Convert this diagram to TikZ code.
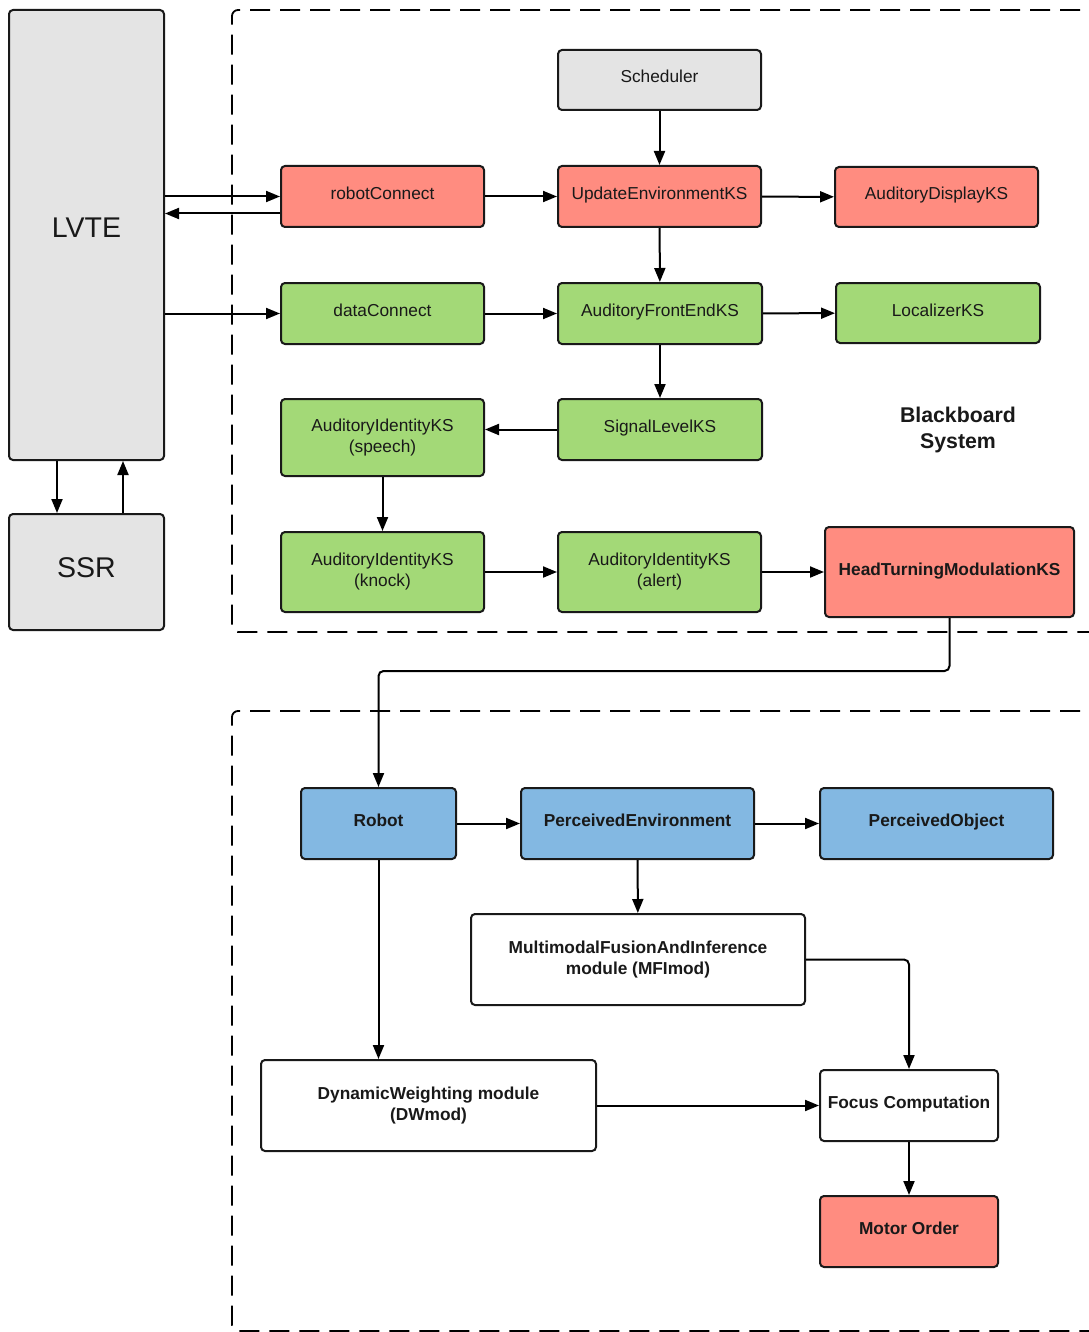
\documentclass[tikz,border=0pt]{standalone}
\usepackage{fontspec}
\setmainfont{Liberation Sans}
\usetikzlibrary{arrows.meta}
\definecolor{boxgray}{RGB}{228,228,228}
\definecolor{boxred}{RGB}{255,140,128}
\definecolor{boxgreen}{RGB}{163,217,119}
\definecolor{boxblue}{RGB}{131,184,226}
\tikzset{
  box/.style={draw=black!90, line width=2pt, rounded corners=4pt, inner sep=0pt,
    align=center, text=black!90, font=\fontsize{17.3}{21}\selectfont},
  oneline/.style={text height=13pt, text depth=7pt},
  boldbox/.style={box, font=\fontsize{17.3}{21}\selectfont\bfseries},
  bigbox/.style={box, font=\fontsize{28.5}{32}\selectfont, text height=21pt},
  flow/.style={line width=2pt, draw=black, -{Triangle[length=14pt,width=11pt]}},
  region/.style={line width=1.8pt, dash pattern=on 20pt off 10pt, rounded corners=6pt},
}
\begin{document}
\begin{tikzpicture}[x=1pt,y=-1pt]
\useasboundingbox[fill=white] (0,0) rectangle (1088,1332);

% dashed regions (open towards the right edge)
\draw[region] (1110,10) -- (232,10) -- (232,632) -- (1110,632);
\draw[region] (1110,711) -- (232,711) -- (232,1331) -- (1110,1331);

% external components
\node[bigbox, text depth=16pt, fill=boxgray, minimum width=155pt, minimum height=450pt] (lvte) at (86.5,235) {LVTE};
\node[bigbox, text depth=11pt, fill=boxgray, minimum width=155pt, minimum height=116pt] (ssr) at (86.5,572) {SSR};

% blackboard system
\node[box, oneline, fill=boxgray, minimum width=203pt, minimum height=60pt] (sched) at (659.5,80) {Scheduler};
\node[box, oneline, fill=boxred, minimum width=203pt, minimum height=61pt] (rc) at (382.5,196.5) {robotConnect};
\node[box, oneline, fill=boxred, minimum width=203pt, minimum height=61pt] (uenv) at (659.5,196.5) {UpdateEnvironmentKS};
\node[box, oneline, fill=boxred, minimum width=203pt, minimum height=60pt] (adisp) at (936.5,197) {AuditoryDisplayKS};
\node[box, oneline, fill=boxgreen, minimum width=203pt, minimum height=61pt] (dc) at (382.5,313.5) {dataConnect};
\node[box, oneline, fill=boxgreen, minimum width=204pt, minimum height=61pt] (afe) at (660,313.5) {AuditoryFrontEndKS};
\node[box, oneline, fill=boxgreen, minimum width=204pt, minimum height=60pt] (loc) at (938,313) {LocalizerKS};
\node[box, oneline, fill=boxgreen, minimum width=204pt, minimum height=61pt] (sig) at (660,429.5) {SignalLevelKS};
\node[box, fill=boxgreen, minimum width=203pt, minimum height=77pt] (speech) at (382.5,437.5) {AuditoryIdentityKS\\(speech)};
\node[box, fill=boxgreen, minimum width=203pt, minimum height=80pt] (knock) at (382.5,572) {AuditoryIdentityKS\\(knock)};
\node[box, fill=boxgreen, minimum width=203pt, minimum height=80pt] (alert) at (659.5,572) {AuditoryIdentityKS\\(alert)};
\node[boldbox, oneline, fill=boxred, minimum width=249pt, minimum height=90pt] (htm) at (949.5,572) {HeadTurningModulationKS};
\node[align=center, font=\fontsize{21.3}{26}\selectfont\bfseries, text=black!90] (bbs) at (958,430) {Blackboard\\System};

% head turning modulation part
\node[boldbox, oneline, fill=boxblue, minimum width=155pt, minimum height=71pt] (robot) at (378.5,823.5) {Robot};
\node[boldbox, oneline, fill=boxblue, minimum width=233pt, minimum height=71pt] (penv) at (637.5,823.5) {PerceivedEnvironment};
\node[boldbox, oneline, fill=boxblue, minimum width=233pt, minimum height=71pt] (pobj) at (936.5,823.5) {PerceivedObject};
\node[boldbox, fill=white, minimum width=334pt, minimum height=91pt] (mfi) at (638,959.5) {MultimodalFusionAndInference\\module (MFImod)};
\node[boldbox, fill=white, minimum width=335pt, minimum height=91pt] (dw) at (428.5,1105.5) {DynamicWeighting module\\(DWmod)};
\node[boldbox, oneline, fill=white, minimum width=178pt, minimum height=71pt] (focus) at (909,1105.5) {Focus Computation};
\node[boldbox, oneline, fill=boxred, minimum width=178pt, minimum height=71pt] (motor) at (909,1231.5) {Motor Order};

\coordinate (turn) at (949.5,671);

% connectors
\draw[flow] (lvte.east |- rc.west) -- (rc.west);
\draw[flow] (rc.west) ++(0,17) coordinate (rcB) -- (rcB -| lvte.east);
\draw[flow] (lvte.east |- dc.west) -- (dc.west);
\draw[flow] (lvte.south) ++(-29.5,0) coordinate (lvteD) -- (lvteD |- ssr.north);
\draw[flow] (ssr.north) ++(36.5,0) coordinate (ssrU) -- (ssrU |- lvte.south);

\draw[flow] (sched) -- (uenv);
\draw[flow] (rc) -- (uenv);
\draw[flow] (uenv) -- (adisp);
\draw[flow] (uenv) -- (afe);
\draw[flow] (dc) -- (afe);
\draw[flow] (afe) -- (loc);
\draw[flow] (afe) -- (sig);
\draw[flow] (sig.west) -- (sig.west -| speech.east);
\draw[flow] (speech) -- (knock);
\draw[flow] (knock) -- (alert);
\draw[flow] (alert) -- (htm);
\draw[flow, rounded corners=5pt] (htm.south) -- (turn) -| (robot.north);

\draw[flow] (robot) -- (penv);
\draw[flow] (penv) -- (pobj);
\draw[flow] (penv) -- (mfi);
\draw[flow, rounded corners=5pt] (mfi.east) -| (focus.north);
\draw[flow] (robot) -- (dw.north -| robot.south);
\draw[flow] (dw) -- (focus);
\draw[flow] (focus) -- (motor);
\end{tikzpicture}
\end{document}
